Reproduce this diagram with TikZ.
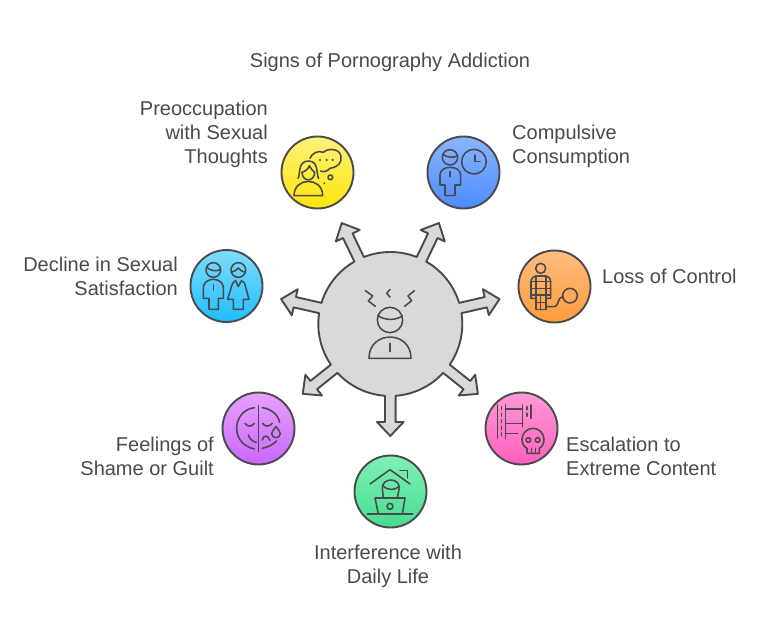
\documentclass[tikz,border=0pt]{standalone}
\usepackage{fontspec}
\setmainfont{Liberation Sans}
\definecolor{ink}{HTML}{4A4A4A}
\tikzset{
  x=1pt,y=1pt,
  lbl/.style={text=ink,inner sep=0pt,font=\fontsize{20}{24}\selectfont},
  bub/.style={circle,draw=ink,line width=1.9pt,minimum size=72pt,inner sep=0pt,shading angle=0},
  ico/.style={draw=ink,line width=1.55pt,line cap=round,line join=round,fill=none},
  crop/.style={x=0.3333pt,y=-0.3333pt}
}
\begin{document}
\begin{tikzpicture}
\useasboundingbox (0,-636) rectangle (768,0);
% central burst
\begin{scope}[shift={(390.3,-324)}]
\draw[draw=ink,fill=black!15,line width=1.9pt,line join=round]
  ({-94.2}:72)
  \foreach \a in {-90,-38.571,12.857,64.286,115.714,167.143,218.571}{
    -- ({\a-4.2}:72) -- ({\a-3.1}:98.14) -- ({\a-7.73}:98.9) -- (\a:112)
    -- ({\a+7.73}:98.9) -- ({\a+3.1}:98.14) -- ({\a+4.2}:72)
    arc[start angle={\a+4.2},end angle={\a+47.23},radius=72]
  } -- cycle;
\end{scope}
\begin{scope}[shift={(270,-230)},crop]
\draw[ico] (360,270) circle[radius=38];
\draw[ico] (323,256) .. controls (345,272) and (375,272) .. (397,258);
\draw[ico] (297,385) .. controls (297,300) and (423,300) .. (423,385) -- cycle;
\draw[ico] (360,340) -- (360,365);
\draw[ico] (286,182) -- (308,198) -- (295,213) -- (316,229);
\draw[ico] (360,178) -- (350,190) -- (360,201);
\draw[ico] (433,182) -- (414,198) -- (425,212) -- (404,229);
\end{scope}
% bubbles
\node[bub,top color={rgb,255:red,255;green,242;blue,122},bottom color={rgb,255:red,255;green,229;blue,10}] (n1) at (317.5,-172.5) {};
\node[bub,top color={rgb,255:red,138;green,182;blue,255},bottom color={rgb,255:red,76;green,139;blue,255}] (n2) at (463.5,-172.5) {};
\node[bub,top color={rgb,255:red,255;green,190;blue,128},bottom color={rgb,255:red,255;green,154;blue,60}] (n3) at (554.5,-286.5) {};
\node[bub,top color={rgb,255:red,255;green,154;blue,216},bottom color={rgb,255:red,255;green,95;blue,192}] (n4) at (521.5,-428.5) {};
\node[bub,top color={rgb,255:red,127;green,240;blue,181},bottom color={rgb,255:red,71;green,221;blue,146}] (n5) at (390.5,-491.5) {};
\node[bub,top color={rgb,255:red,232;green,160;blue,255},bottom color={rgb,255:red,204;green,102;blue,255}] (n6) at (258.5,-428.5) {};
\node[bub,top color={rgb,255:red,127;green,220;blue,255},bottom color={rgb,255:red,30;green,190;blue,255}] (n7) at (226.5,-286) {};
% yellow and blue icons
\begin{scope}[shift={(270,-125)},crop]
\draw[ico] (72,212) .. controls (72,155) and (158,155) .. (158,212) -- cycle;
\draw[ico] (84,160) .. controls (92,150) and (82,108) .. (115,108) .. controls (148,108) and (138,150) .. (146,160);
\draw[ico] (96,142) .. controls (97,172) and (133,172) .. (134,142);
\draw[ico] (96,142) .. controls (108,138) and (116,130) .. (118,122) .. controls (122,130) and (128,138) .. (134,142);
\draw[ico] (120,100) .. controls (125,85) and (145,75) .. (160,82) .. controls (175,68) and (210,70) .. (213,95) .. controls (215,115) and (205,125) .. (180,130) .. controls (170,140) and (162,142) .. (152,138);
\fill[ink] (150,105) circle[radius=3.5] (170,105) circle[radius=3.5] (188,105) circle[radius=3.5] (163,175) circle[radius=3];
\draw[ico] (181,157) circle[radius=7];
% blue
\draw[ico] (540,97) circle[radius=23];
\draw[ico] (518,88) .. controls (530,97) and (550,100) .. (563,92);
\draw[ico] (525,180) -- (510,180) -- (510,150) .. controls (510,135) and (525,127) .. (540,127) .. controls (557,127) and (572,135) .. (572,150) -- (572,180) -- (555,180) -- (555,212) -- (525,212) -- cycle;
\draw[ico] (540,140) -- (540,155);
\draw[ico] (612,110) circle[radius=37];
\draw[ico] (615,90) -- (615,110) -- (630,110);
\end{scope}
% light blue icon
\begin{scope}[shift={(180,-240)},crop]
\draw[ico] (100,90) circle[radius=22];
\draw[ico] (80,82) .. controls (90,92) and (110,96) .. (122,88);
\draw[ico] (87,175) -- (70,175) -- (70,142) .. controls (70,128) and (85,118) .. (100,118) .. controls (115,118) and (130,128) .. (130,142) -- (130,175) -- (115,175) -- (115,208) -- (87,208) -- cycle;
\draw[ico] (100,135) -- (100,150);
\draw[ico] (175,90) circle[radius=22];
\draw[ico] (155,96) .. controls (165,96) and (170,88) .. (175,84) .. controls (180,88) and (185,96) .. (196,96);
\draw[ico] (160,178) -- (143,178) -- (155,138) .. controls (158,128) and (163,124) .. (167,122) -- (175,140) -- (184,122) .. controls (190,124) and (194,128) .. (196,138) -- (207,178) -- (190,178) -- (190,208) -- (160,208) -- cycle;
\end{scope}
% orange icon
\begin{scope}[shift={(510,-240)},crop]
\draw[ico] (92,85) circle[radius=15];
\draw[ico] (78,175) -- (63,175) -- (63,125) .. controls (63,114) and (72,108) .. (82,108) -- (104,108) .. controls (114,108) and (122,114) .. (122,125) -- (122,175) -- (108,175);
\draw[ico] (78,108) -- (78,208) -- (108,208) -- (108,108);
\draw[ico] (63,125) -- (122,125) (63,145) -- (122,145) (63,165) -- (122,165) (78,187) -- (108,187) (92,165) -- (92,208);
\draw[ico] (108,200) -- (130,200) .. controls (150,200) and (140,172) .. (158,170);
\draw[ico] (180,167) circle[radius=22];
\end{scope}
% pink icon
\begin{scope}[shift={(477,-385)},crop]
\draw[ico] (62,60) -- (62,160) (85,60) -- (85,160) (137,60) -- (137,125) (162,60) -- (162,100);
\draw[ico,dash pattern=on 3pt off 3.5pt] (73,65) -- (73,160) (150,65) -- (150,100);
\draw[ico] (85,72) -- (137,72) (85,115) -- (137,115) (85,145) -- (122,145);
\draw[ico] (150,205) -- (150,190) .. controls (140,185) and (135,175) .. (135,163) .. controls (135,145) and (150,130) .. (168,130) .. controls (186,130) and (201,145) .. (201,163) .. controls (201,175) and (196,185) .. (187,190) -- (187,205) -- cycle;
\draw[ico] (154,165) circle[radius=7] (182,165) circle[radius=7];
\draw[ico] (163,190) -- (163,205) (175,190) -- (175,205);
\end{scope}
% green icon
\begin{scope}[shift={(345,-448)},crop]
\draw[ico] (75,108) -- (135,65) -- (195,108);
\draw[ico] (165,68) -- (187,68) -- (187,90);
\draw[ico] (115,150) -- (112,120) .. controls (112,88) and (163,88) .. (163,120) -- (157,150);
\draw[ico] (112,112) .. controls (125,128) and (150,128) .. (163,115);
\draw[ico] (90,150) -- (180,150) -- (172,198) -- (100,198) -- cycle;
\draw[ico] (135,175) circle[radius=9];
\draw[ico] (67,198) -- (203,198);
\end{scope}
% purple icon
\begin{scope}[shift={(215,-385)},crop]
\draw[ico] (130,62) -- (130,200);
\draw[ico] (118,68) .. controls (85,72) and (65,100) .. (65,130) .. controls (65,160) and (85,185) .. (118,192);
\draw[ico] (142,68) .. controls (170,72) and (190,90) .. (194,112);
\draw[ico] (185,168) .. controls (175,178) and (160,186) .. (142,190);
\draw[ico] (90,115) .. controls (97,126) and (110,126) .. (118,115);
\draw[ico] (143,115) .. controls (150,126) and (163,126) .. (172,115);
\draw[ico] (100,150) .. controls (104,162) and (112,170) .. (124,172);
\draw[ico] (142,165) .. controls (145,150) and (158,148) .. (165,166);
\draw[ico] (183,124) .. controls (176,135) and (170,140) .. (170,146) .. controls (170,162) and (196,162) .. (196,146) .. controls (196,140) and (190,135) .. (183,124) -- cycle;
\end{scope}
% text
\node[lbl] (title) at (390,-62.5) {Signs of Pornography Addiction};
\node[lbl,align=right,anchor=east] (t1) at (268,-134.5) {Preoccupation\\with Sexual\\Thoughts};
\node[lbl,align=left,anchor=west] (t2) at (512,-146.5) {Compulsive\\Consumption};
\node[lbl,align=left,anchor=west] (t3) at (602,-276.5) {Loss of Control};
\node[lbl,align=left,anchor=west] (t4) at (566,-456.5) {Escalation to\\Extreme Content};
\node[lbl,align=center] (t5) at (388,-566.5) {Interference with\\Daily Life};
\node[lbl,align=right,anchor=east] (t6) at (214,-456.5) {Feelings of\\Shame or Guilt};
\node[lbl,align=right,anchor=east] (t7) at (178,-276.5) {Decline in Sexual\\Satisfaction};
\end{tikzpicture}
\end{document}
